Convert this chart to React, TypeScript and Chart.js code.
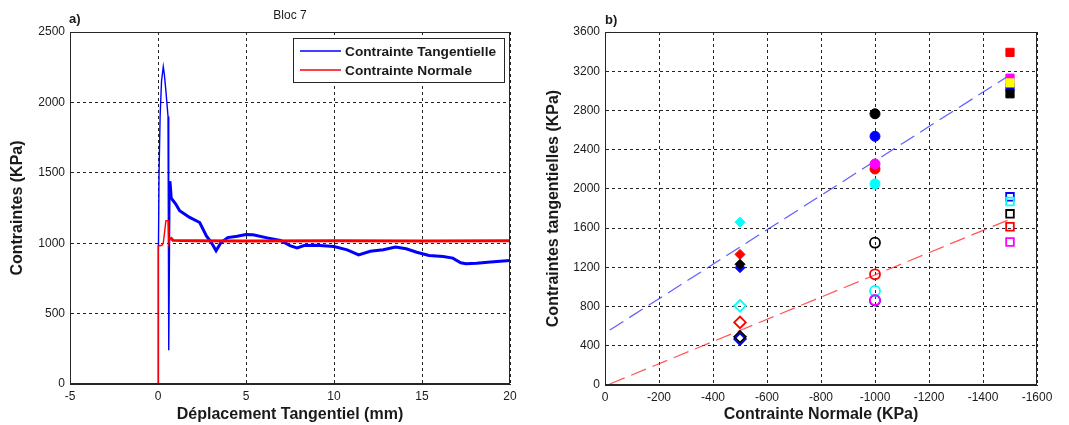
import React, { useEffect, useRef } from 'react';
import { Chart, registerables } from 'chart.js';

Chart.register(...registerables);

const FONT = '"Liberation Sans", Arial, Helvetica, sans-serif';
Chart.defaults.font.family = FONT;

// ---------- Panel a) : Bloc 7 ----------
const tangX = [0, 0.02, 0.03, 0.06, 0.12, 0.2, 0.3, 0.36, 0.45, 0.57, 0.62, 0.6, 0.68, 0.75, 1.0, 1.23, 1.8, 2.37, 2.75, 3.03, 3.3, 3.58, 3.96, 4.5, 5.0, 5.4, 6.2, 6.96, 7.5, 7.9, 8.3, 9.0, 10.0, 10.75, 11.4, 12.06, 12.8, 13.5, 14.1, 14.7, 15.4, 16.2, 16.75, 17.2, 17.5, 18.1, 18.9, 20];
const tangY = [0, 280, 950, 1500, 1900, 2150, 2254, 2200, 2080, 1900, 1640, 240, 1440, 1320, 1280, 1230, 1183, 1147, 1052, 1005, 946, 1005, 1040, 1050, 1062, 1060, 1038, 1019, 983, 967, 983, 985, 976, 953, 917, 943, 953, 972, 960, 936, 913, 906, 894, 861, 854, 858, 866, 877];
const normX = [0.05, 0.02, 0.0, 0.02, 0.22, 0.3, 0.45, 0.58, 0.62, 0.7, 0.85, 2, 5, 10, 15, 20];
const normY = [0, 400, 700, 980, 985, 1000, 1160, 1160, 1000, 1040, 1020, 1018, 1015, 1018, 1015, 1018];
const aXRange = [-5, 20];
const aXStep = 5;
const aYRange = [0, 2500];
const aYStep = 500;
const aSeriesNames = ['Contrainte Tangentielle', 'Contrainte Normale'];
const aSeriesColors = ['#0000FF', '#FF0000'];

// ---------- Panel b) : critère de rupture ----------
const blocColors = ['#0000FF', '#FF0000', '#000000', '#00FFFF', '#FF00FF', '#FFFF00'];
const sigmaLevels = [-500, -1000, -1500];
// peak (filled markers) and residual (open markers) values per bloc colour
const peak500 = [1197, 1332, 1231, 1661, null, null];
const resid500 = [468, 638, 491, 807, null, null];
const peak1000 = [2536, 2203, 2766, 2051, 2254, null];
const resid1000 = [860, 1129, 1451, 959, 867, null];
const peak1500 = [3040, 3392, 2970, null, 3129, 3081];
const resid1500 = [1919, 1614, 1746, 1871, 1458, null];
const peakFitX = [-18, -1500];
const peakFitY = [561, 3162];
const residFitX = [-18, -1500];
const residFitY = [10, 1690];
const bXRange = [-1600, 0];
const bXStep = 200;
const bYRange = [0, 3600];
const bYStep = 400;

const TXT = '#1a1a1a';
const GRID = '#222222';

function xy(xs: number[], ys: number[]) {
  return xs.map((x, i) => ({ x, y: ys[i] }));
}

function markerSet(sig: number, vals: (number | null)[], style: string, filled: boolean, radius: number) {
  const pts: { x: number; y: number }[] = [];
  const cols: string[] = [];
  vals.forEach((v, i) => {
    if (v !== null) {
      pts.push({ x: sig, y: v });
      cols.push(blocColors[i]);
    }
  });
  return {
    data: pts,
    showLine: false,
    pointStyle: style,
    pointRadius: radius,
    pointHoverRadius: radius,
    pointBackgroundColor: filled ? cols : 'rgba(0,0,0,0)',
    pointBorderColor: cols,
    pointBorderWidth: filled ? 1 : 1.8,
    order: 0,
  };
}

const boxPlugin = {
  id: 'boxPlugin',
  afterDatasetsDraw(chart: any) {
    const { ctx, chartArea } = chart;
    const l = Math.round(chartArea.left) + 0.5;
    const t = Math.round(chartArea.top) + 0.5;
    const r = Math.round(chartArea.right) - 0.5;
    const b = Math.round(chartArea.bottom) - 0.5;
    ctx.save();
    ctx.setLineDash([]);
    ctx.strokeStyle = '#262626';
    ctx.lineWidth = 1;
    ctx.strokeRect(l, t, r - l, b - t);
    ctx.restore();
  },
};

function scaleCommon(min: number, max: number, step: number, title: string, extra: any) {
  return {
    type: 'linear',
    min,
    max,
    ticks: {
      stepSize: step,
      padding: 5,
      color: TXT,
      font: { size: 12, family: FONT },
      callback: (v: any) => String(v),
    },
    grid: { color: GRID, lineWidth: 1, drawTicks: false },
    border: { display: true, color: '#262626', width: 1, dash: [3, 3] },
    title: {
      display: true,
      text: title,
      color: TXT,
      font: { size: 16, weight: 'bold', family: FONT },
      ...extra.title,
    },
    ...extra.rest,
  };
}

function configA(): any {
  const legendPlugin = {
    id: 'legendA',
    afterDraw(chart: any) {
      const { ctx } = chart;
      ctx.save();
      ctx.setLineDash([]);
      // panel label & title
      ctx.fillStyle = TXT;
      ctx.font = `bold 13px ${FONT}`;
      ctx.textAlign = 'left';
      ctx.textBaseline = 'middle';
      ctx.fillText('a)', 69, 19);
      ctx.font = `12px ${FONT}`;
      ctx.textAlign = 'center';
      ctx.fillText('Bloc 7', (chart.chartArea.left + chart.chartArea.right) / 2, 16);
      // legend box
      const bx = 293.5, by = 38.5, bw = 211, bh = 44;
      ctx.fillStyle = '#ffffff';
      ctx.fillRect(bx, by, bw, bh);
      ctx.strokeStyle = '#262626';
      ctx.lineWidth = 1;
      ctx.strokeRect(bx, by, bw, bh);
      const rows = [51, 70];
      aSeriesNames.forEach((name, i) => {
        ctx.strokeStyle = aSeriesColors[i];
        ctx.lineWidth = 1.5;
        ctx.beginPath();
        ctx.moveTo(300, rows[i]);
        ctx.lineTo(341, rows[i]);
        ctx.stroke();
        ctx.fillStyle = TXT;
        ctx.font = `bold 13.7px ${FONT}`;
        ctx.textAlign = 'left';
        ctx.textBaseline = 'middle';
        ctx.fillText(name, 345, rows[i] + 1);
      });
      ctx.restore();
    },
  };
  const widthSeg = (ctx: any) => (ctx.p0.parsed.x < 0.74 && ctx.p1.parsed.x < 0.74 ? 1.4 : 3);
  return {
    type: 'scatter',
    data: {
      datasets: [
        {
          label: aSeriesNames[0],
          data: xy(tangX, tangY),
          showLine: true,
          borderColor: aSeriesColors[0],
          backgroundColor: aSeriesColors[0],
          borderWidth: 3,
          pointRadius: 0,
          pointHoverRadius: 0,
          segment: { borderWidth: widthSeg },
          order: 1,
        },
        {
          label: aSeriesNames[1],
          data: xy(normX, normY),
          showLine: true,
          borderColor: aSeriesColors[1],
          backgroundColor: aSeriesColors[1],
          borderWidth: 3,
          pointRadius: 0,
          pointHoverRadius: 0,
          segment: { borderWidth: widthSeg },
          order: 0,
        },
      ],
    },
    options: {
      responsive: false,
      animation: false,
      events: [],
      layout: { padding: { left: 0, right: 20, top: 32, bottom: 0 } },
      plugins: { legend: { display: false }, tooltip: { enabled: false } },
      scales: {
        x: scaleCommon(aXRange[0], aXRange[1], aXStep, 'Déplacement Tangentiel (mm)', {
          title: { padding: { top: 0, bottom: 0.4 } },
          rest: { afterFit: (s: any) => { s.height = 41; } },
        }),
        y: scaleCommon(aYRange[0], aYRange[1], aYStep, 'Contraintes (KPa)', {
          title: { padding: { top: 8.4, bottom: 0 } },
          rest: { afterFit: (s: any) => { s.width = 70; } },
        }),
      },
    },
    plugins: [boxPlugin, legendPlugin],
  };
}

function configB(): any {
  const labelPlugin = {
    id: 'labelB',
    afterDraw(chart: any) {
      const { ctx } = chart;
      ctx.save();
      ctx.fillStyle = TXT;
      ctx.font = `bold 13px ${FONT}`;
      ctx.textAlign = 'left';
      ctx.textBaseline = 'middle';
      ctx.fillText('b)', 75, 20);
      ctx.restore();
    },
  };
  const fitLine = (xs: number[], ys: number[], color: string) => ({
    data: xy(xs, ys),
    showLine: true,
    borderColor: color,
    borderWidth: 1.2,
    borderDash: [16, 7],
    pointRadius: 0,
    pointHoverRadius: 0,
    order: 5,
  });
  return {
    type: 'scatter',
    data: {
      datasets: [
        fitLine(peakFitX, peakFitY, 'rgba(40,40,255,0.75)'),
        fitLine(residFitX, residFitY, 'rgba(255,30,30,0.75)'),
        markerSet(sigmaLevels[0], peak500, 'rectRot', true, 5),
        markerSet(sigmaLevels[0], resid500, 'rectRot', false, 5.8),
        markerSet(sigmaLevels[1], peak1000, 'circle', true, 5),
        markerSet(sigmaLevels[1], resid1000, 'circle', false, 5),
        markerSet(sigmaLevels[2], peak1500, 'rect', true, 5.8),
        markerSet(sigmaLevels[2], resid1500, 'rect', false, 5.4),
      ],
    },
    options: {
      responsive: false,
      animation: false,
      events: [],
      layout: { padding: { left: 0, right: 32, top: 32, bottom: 0 } },
      plugins: { legend: { display: false }, tooltip: { enabled: false } },
      scales: {
        x: scaleCommon(bXRange[0], bXRange[1], bXStep, 'Contrainte Normale (KPa)', {
          title: { padding: { top: 0, bottom: 0.4 } },
          rest: { reverse: true, afterFit: (s: any) => { s.height = 40; } },
        }),
        y: scaleCommon(bYRange[0], bYRange[1], bYStep, 'Contraintes tangentielles (KPa)', {
          title: { padding: { top: 14.4, bottom: 0 } },
          rest: { afterFit: (s: any) => { s.width = 75; } },
        }),
      },
    },
    plugins: [boxPlugin, labelPlugin],
  };
}

function ChartCanvas({ make, left, width, height }: { make: () => any; left: number; width: number; height: number }) {
  const ref = useRef<HTMLCanvasElement | null>(null);
  useEffect(() => {
    if (!ref.current) return;
    const chart = new Chart(ref.current, make());
    return () => chart.destroy();
  }, []);
  return (
    <div style={{ position: 'absolute', left, top: 0, width, height }}>
      <canvas ref={ref} width={width} height={height} style={{ width, height, display: 'block' }} />
    </div>
  );
}

export default function App() {
  return (
    <div style={{ position: 'fixed', left: 0, top: 0, width: 1069, height: 425, background: '#ffffff', overflow: 'hidden' }}>
      <ChartCanvas make={configA} left={0} width={530} height={425} />
      <ChartCanvas make={configB} left={530} width={539} height={425} />
    </div>
  );
}
